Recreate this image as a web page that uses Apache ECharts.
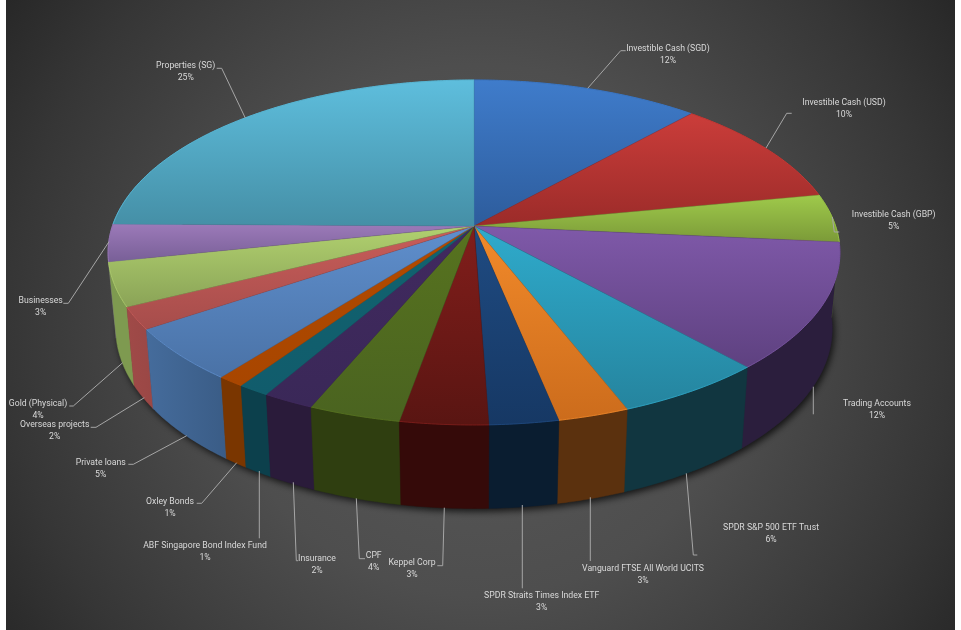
<!DOCTYPE html>
<html><head><meta charset="utf-8">
<style>html,body{margin:0;padding:0;background:#fff}#c{width:961px;height:630px}</style>
<script src="https://cdn.jsdelivr.net/npm/echarts@6/dist/echarts.min.js"></script>
</head><body><div id="c"></div>
<script>
// ---- data ----
const categories = ['Investible Cash (SGD)','Investible Cash (USD)','Investible Cash (GBP)','Trading Accounts','SPDR S&P 500 ETF Trust','Vanguard FTSE All World UCITS','SPDR Straits Times Index ETF','Keppel Corp','CPF','Insurance','ABF Singapore Bond Index Fund','Oxley Bonds','Private loans','Overseas projects','Gold (Physical)','Businesses','Properties (SG)'];
const values = [11.67,10.30,4.52,11.83,5.77,2.72,2.64,3.36,3.52,1.97,1.21,1.03,5.00,2.07,4.10,3.49,24.81];
// ---- styles ----
const topLight = ['#3f7ccb','#cb3d3a','#9fca4b','#7f59a9','#2fabcc','#f28a2a','#1f4b82','#821e1b','#57731f','#41295f','#11636f','#b24a00','#5f8fcd','#c95d5a','#b1d16f','#9c7ab9','#5ebedd'];
const topDark  = ['#2d5c9c','#9b2b29','#7b9a38','#5e4180','#25849e','#cc6c1c','#163864','#591512','#4a6320','#3a2858','#115c6c','#a84600','#4a72a6','#a64d4b','#8aa357','#785f97','#458fa6'];
const sideColors = ['#2d4f7c','#7c2422','#5f7a30','#2b1e3d','#113640','#5b310e','#0a1d30','#350a09','#2f3e10','#2a1b3a','#0c404c','#7a3600','#456c9c','#a04a48','#7e9a50','#6f5a8c','#3f7f94'];
const sideEnd    = ['#2d4f7c','#7c2422','#5f7a30','#2b1e3d','#113640','#5b310e','#0a1d30','#350a09','#2f3e10','#2a1b3a','#0c404c','#7a3600','#3a5c86','#9a4745','#7e9a50','#6f5a8c','#3f7f94'];
// ---- label layout: [centre x, centre y, leader line points...] ----
const labelLayout = [
 [668,54.5,[[587.7,88.3],[620.7,50.7],[625.7,50.7]]],
 [844,109,[[766,148],[786.7,113.3],[791.7,113.3]]],
 [893.7,221,[[832.3,217],[834.3,232],[839.3,232]]],
 [877,409.7,[[813.3,386.7],[813.3,414.3]]],
 [771,534,[[686.3,473.3],[693.3,555],[697.3,555]]],
 [643,574.7,[[590.3,497.3],[590.3,561]]],
 [541.7,602,[[522.3,505],[522.3,588.3]]],
 [412,569,[[444.3,507.7],[442.7,565.7],[437.3,565.7]]],
 [373.7,562,[[356.3,498.3],[359.3,558.7],[365,558.7]]],
 [317,564.7,[[293.3,482.3],[296.3,560.7],[298,560.7]]],
 [205,552,[[259.3,471],[259.3,538.3]]],
 [170,507.7,[[236.7,462.7],[201.7,503.3],[196.7,503.3]]],
 [100.7,469,[[186.7,435.7],[133.3,464.3],[128.3,464.3]]],
 [54.7,431,[[144.3,397.7],[96,427.3],[90.7,427.3]]],
 [38,409.7,[[122.7,362.7],[73.3,406],[69.3,406]]],
 [40.7,307,[[109,241.7],[68.3,303.3],[63.3,303.3]]],
 [185.7,72,[[245.3,118],[221.7,68.3],[216.7,68.3]]]
];
// ---- projection of the tilted disc ----
const CX=474, CY=226, PA=133.7, PC=-0.1536, PK=361.6, BX=0.979;
function topPt(t){const x=Math.sin(t),y=-Math.cos(t),w=1+PC*y;return [CX+PK*x/w,(PA*y+CY)/w];}
function botPt(t){const p=topPt(t);return [CX+(p[0]-CX)*BX,p[1]+76+(p[1]-250)*0.043];}
function arc(fn,a,b){const n=Math.max(2,Math.ceil(Math.abs(b-a)/0.01)),o=[];for(let i=0;i<=n;i++)o.push(fn(a+(b-a)*i/n));return o;}
const total=values.reduce((s,v)=>s+v,0);
const cum=[0];values.forEach(v=>cum.push(cum[cum.length-1]+v));
const ang=i=>cum[i]/total*Math.PI*2;
const LG=(a,b,h)=>new echarts.graphic.LinearGradient(0,0,h?1:0,h?0:1,[{offset:0,color:a},{offset:1,color:b}]);
const seriesData=values.map((v,i)=>({name:categories[i],value:v}));
const chart=echarts.init(document.getElementById('c'),null,{renderer:'canvas'});
chart.setOption({
 animation:false,
 graphic:[{type:'rect',silent:true,z:-10,shape:{x:6,y:0,width:949,height:630},
   style:{fill:new echarts.graphic.RadialGradient(480,330,590,[{offset:0,color:'#5a5a5a'},{offset:0.45,color:'#4e4e4e'},{offset:0.8,color:'#363636'},{offset:1,color:'#262626'}],true)}}],
 series:[
  {type:'custom',coordinateSystem:'none',silent:true,z:1,data:[1],
   renderItem(){return {type:'polygon',shape:{points:arc(botPt,0,Math.PI*2)},
     style:{fill:'#222',shadowColor:'rgba(0,0,0,0.75)',shadowBlur:7,shadowOffsetX:2,shadowOffsetY:3}};}},
  {type:'custom',coordinateSystem:'none',silent:true,z:2,data:seriesData,
   renderItem(p){const i=p.dataIndex,a=ang(i),b=ang(i+1);
     // back-to-front: slices nearer the viewer paint over those behind them
     const near=Math.round(topPt((a+b)/2)[1]);
     return {type:'polygon',z2:near,shape:{points:arc(topPt,a,b).concat(arc(botPt,b,a))},
       style:{fill:LG(sideColors[i],sideEnd[i],true),stroke:sideColors[i],lineWidth:0.5}};}},
  {type:'custom',coordinateSystem:'none',silent:true,z:3,data:seriesData,
   renderItem(p){const i=p.dataIndex,a=ang(i),b=ang(i+1),rim=arc(topPt,a,b);
     return {type:'group',children:[
       {type:'polygon',shape:{points:[[CX,CY]].concat(rim)},style:{fill:LG(topLight[i],topDark[i]),stroke:topDark[i],lineWidth:0.4}},
       {type:'polyline',shape:{points:rim},style:{fill:'none',stroke:topLight[i],lineWidth:1,opacity:0.8}}
     ]};}},
  {type:'custom',coordinateSystem:'none',silent:true,z:4,data:seriesData,
   renderItem(p,api){const i=p.dataIndex,l=labelLayout[i];
     const pct=Math.round(api.value(0)/total*100)+'%';
     return {type:'group',children:[
       {type:'polyline',shape:{points:l[2]},style:{fill:'none',stroke:'#a6a6a6',lineWidth:1}},
       {type:'text',style:{x:l[0],y:l[1],text:categories[i]+'\n'+pct,fill:'#d9d9d9',align:'center',verticalAlign:'middle',
         font:'8.7px Roboto',lineHeight:12}}
     ]};},
   encode:{value:0}}
 ]
});
</script></body></html>
